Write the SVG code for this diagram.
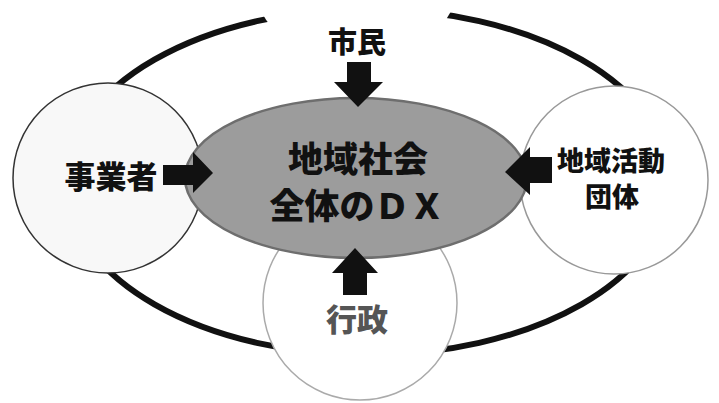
<svg xmlns="http://www.w3.org/2000/svg" width="719" height="403" viewBox="0 0 719 403">
<style>
.lbl{font-family:"Noto Sans CJK JP","Noto Sans CJK SC",sans-serif;font-weight:900;text-anchor:middle;fill:#111}
.arr{fill:#111}
</style>
<rect width="719" height="403" fill="#ffffff"/>
<g id="outer-ring">
<ellipse cx="368" cy="182" rx="302" ry="173" fill="none" stroke="#111" stroke-width="6"/>
</g>
<g id="node-shimin">
<circle cx="356" cy="-40" r="108" fill="#ffffff"/>
<text class="lbl" x="357" y="53" font-size="29">市民</text>
</g>
<g id="node-jigyosha">
<circle cx="108" cy="178" r="95" fill="#f8f8f8" stroke="#333" stroke-width="1.5"/>
<text class="lbl" x="111" y="188" font-size="31">事業者</text>
</g>
<g id="node-dantai">
<circle cx="614" cy="180" r="94" fill="#ffffff" stroke="#999" stroke-width="1.5"/>
<text class="lbl" x="611" y="171" font-size="27">地域活動</text>
<text class="lbl" x="612" y="207" font-size="27">団体</text>
</g>
<g id="node-gyosei">
<circle cx="360" cy="303" r="97" fill="#ffffff" stroke="#aaa" stroke-width="1.5"/>
<text class="lbl" x="357" y="331" font-size="31" style="fill:#555">行政</text>
</g>
<g id="node-center">
<ellipse cx="356" cy="178" rx="171" ry="80" fill="#9c9c9c" stroke="#6e6e6e" stroke-width="2.5"/>
<text class="lbl" x="358" y="172" font-size="35">地域社会</text>
<text class="lbl" x="357" y="219" font-size="35">全体のＤＸ</text>
</g>
<g id="connectors">
<polygon class="arr" points="347,62 371,62 371,82 383,82 358,107 334,82 347,82"/>
<polygon class="arr" points="163,165 193,165 193,152 213,173 193,193 193,185 163,185"/>
<polygon class="arr" points="552,157 530,157 530,147 505,172 530,195 530,183 552,183"/>
<polygon class="arr" points="343,295 367,295 367,273 378,273 355,248 332,273 343,273"/>
</g>
</svg>
